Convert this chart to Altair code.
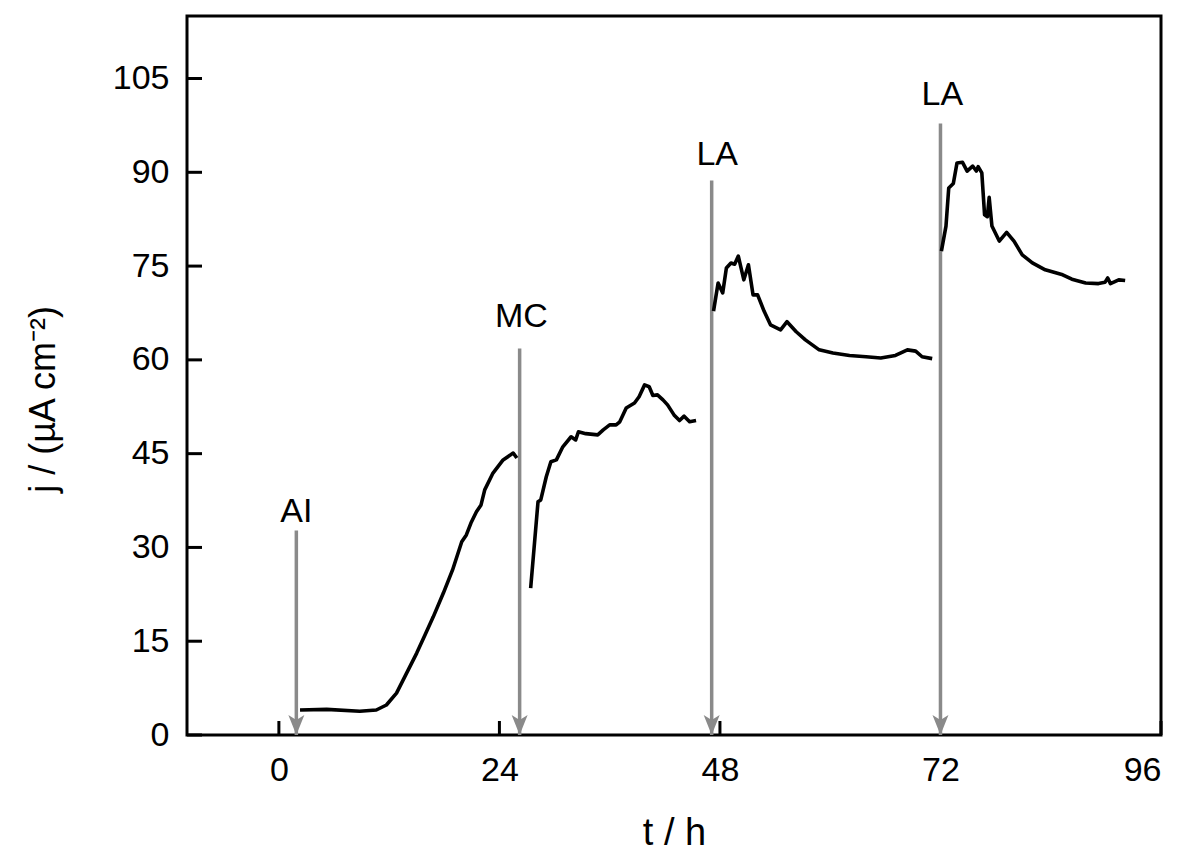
import altair as alt
import pandas as pd

# ---- data ----
seg1_t = [2.3, 5.2, 8.8, 10.6, 11.7, 12.8, 13.9, 15.0, 15.9, 16.8, 17.9, 18.9, 19.9, 20.4, 20.9, 21.5, 22.0, 22.4, 23.3, 24.4, 25.5, 25.9]
seg1_j = [4.0, 4.1, 3.8, 4.0, 4.8, 6.7, 9.9, 13.1, 16.0, 18.9, 22.7, 26.4, 30.9, 32.0, 33.9, 35.7, 36.8, 39.2, 41.9, 44.0, 45.1, 44.3]

seg2_t = [27.4, 28.2, 28.5, 29.1, 29.6, 30.2, 30.9, 31.8, 32.3, 32.6, 33.4, 34.7, 35.3, 36.0, 36.7, 37.1, 37.8, 38.7, 39.2, 39.8, 40.3, 40.7, 41.2, 41.8, 42.3, 43.0, 43.6, 44.1, 44.7, 45.4]
seg2_j = [23.5, 37.3, 37.6, 41.3, 43.7, 44.0, 46.1, 47.7, 47.2, 48.5, 48.2, 48.0, 48.8, 49.6, 49.6, 50.1, 52.3, 53.1, 54.1, 56.0, 55.7, 54.3, 54.4, 53.6, 52.8, 51.2, 50.3, 51.0, 50.1, 50.3]

seg3_t = [47.3, 47.8, 48.3, 48.7, 49.2, 49.6, 50.0, 50.6, 51.1, 51.6, 52.1, 52.8, 53.5, 54.6, 55.3, 56.3, 57.3, 58.8, 60.3, 62.1, 63.9, 65.5, 67.1, 68.4, 69.3, 70.0, 71.1]
seg3_j = [67.8, 72.3, 70.7, 74.7, 75.5, 75.3, 76.6, 72.8, 75.2, 70.4, 70.4, 67.8, 65.6, 64.8, 66.1, 64.5, 63.2, 61.6, 61.1, 60.7, 60.5, 60.3, 60.7, 61.6, 61.4, 60.5, 60.2]

seg4_t = [72.1, 72.6, 72.9, 73.4, 73.8, 74.4, 74.9, 75.5, 75.9, 76.1, 76.5, 76.8, 77.1, 77.3, 77.6, 78.4, 79.2, 80.0, 80.9, 82.0, 83.4, 85.3, 86.3, 87.8, 89.2, 89.9, 90.2, 90.5, 91.4, 92.1]
seg4_j = [77.4, 81.4, 87.5, 88.2, 91.5, 91.6, 90.2, 91.0, 90.2, 90.9, 89.9, 83.2, 82.9, 86.0, 81.4, 79.0, 80.4, 79.0, 76.8, 75.5, 74.4, 73.6, 72.9, 72.3, 72.2, 72.4, 73.1, 72.2, 72.8, 72.7]

arrow_t = [1.9, 26.2, 47.1, 72.0]
arrow_top = [32.7, 61.8, 88.7, 97.8]
arrow_label = ["AI", "MC", "LA", "LA"]
label_j = [34.1, 65.3, 91.1, 100.8]
label_t = [1.9, 26.4, 47.7, 72.2]

x_ticks = [0, 24, 48, 72, 96]
y_ticks = [0, 15, 30, 45, 60, 75, 90, 105]

# ---- tables ----
rows = []
for k, (ts, js) in enumerate([(seg1_t, seg1_j), (seg2_t, seg2_j), (seg3_t, seg3_j), (seg4_t, seg4_j)]):
    for i, (t, j) in enumerate(zip(ts, js)):
        rows.append({"t": t, "j": j, "seg": k, "o": i})
curve = pd.DataFrame(rows)
arrows = pd.DataFrame({"t": arrow_t, "top": arrow_top, "base": [0] * 4,
                       "label": arrow_label, "ly": label_j, "lt": label_t})
xt = pd.DataFrame({"v": x_ticks})
yt = pd.DataFrame({"v": y_ticks})

W, H = 974, 719
FONT = "Liberation Sans"
GRAY = "#8a8a8a"

xs = alt.Scale(domain=[-10, 96], nice=False, zero=False)
ys = alt.Scale(domain=[0, 115], nice=False)

x_axis = alt.Axis(values=x_ticks, title="t / h", grid=False, domain=False, ticks=False,
                  labelPadding=18, labelFontSize=34, titleFontSize=38, titleFontWeight="normal",
                  labelFont=FONT, titleFont=FONT, labelColor="black", titleColor="black",
                  titlePadding=27)
y_axis = alt.Axis(values=y_ticks, title="j / (µA cm⁻²)", grid=False, domain=False, ticks=False,
                  labelPadding=18, labelFontSize=34, titleFontSize=36, titleFontWeight="normal",
                  labelFont=FONT, titleFont=FONT, labelColor="black", titleColor="black",
                  titlePadding=50, titleY=383)

line = alt.Chart(curve).mark_line(color="black", strokeWidth=3.6, strokeJoin="round").encode(
    x=alt.X("t:Q", scale=xs, axis=x_axis),
    y=alt.Y("j:Q", scale=ys, axis=y_axis),
    detail="seg:N",
    order="o:Q",
)

arrow_shaft = alt.Chart(arrows).mark_rule(color=GRAY, strokeWidth=3.5).encode(
    x=alt.X("t:Q", scale=xs), y=alt.Y("top:Q", scale=ys), y2="base:Q"
)
arrow_head = alt.Chart(arrows).mark_point(
    shape="M0,0L-0.8,-2L0,-1.5L0.8,-2Z", filled=True, size=400, color=GRAY, opacity=1
).encode(x=alt.X("t:Q", scale=xs), y=alt.Y("base:Q", scale=ys))

labels = alt.Chart(arrows).mark_text(fontSize=34, font=FONT, baseline="alphabetic", align="center",
                                     color="black").encode(
    x=alt.X("lt:Q", scale=xs), y=alt.Y("ly:Q", scale=ys), text="label:N"
)

yticks = alt.Chart(yt).mark_rule(color="black", strokeWidth=3).encode(
    y=alt.Y("v:Q", scale=ys), x=alt.value(0), x2=alt.value(15)
)
xticks = alt.Chart(xt).mark_rule(color="black", strokeWidth=3).encode(
    x=alt.X("v:Q", scale=xs), y=alt.value(H), y2=alt.value(H - 14)
)

chart = alt.layer(yticks, xticks, arrow_shaft, arrow_head, line, labels).properties(
    width=W, height=H, padding={"left": 17, "top": 8, "right": 5, "bottom": 0}
).configure(background="white").configure_view(stroke="black", strokeWidth=3)

chart.save("out.html", embed_options={"renderer": "svg", "actions": False})
